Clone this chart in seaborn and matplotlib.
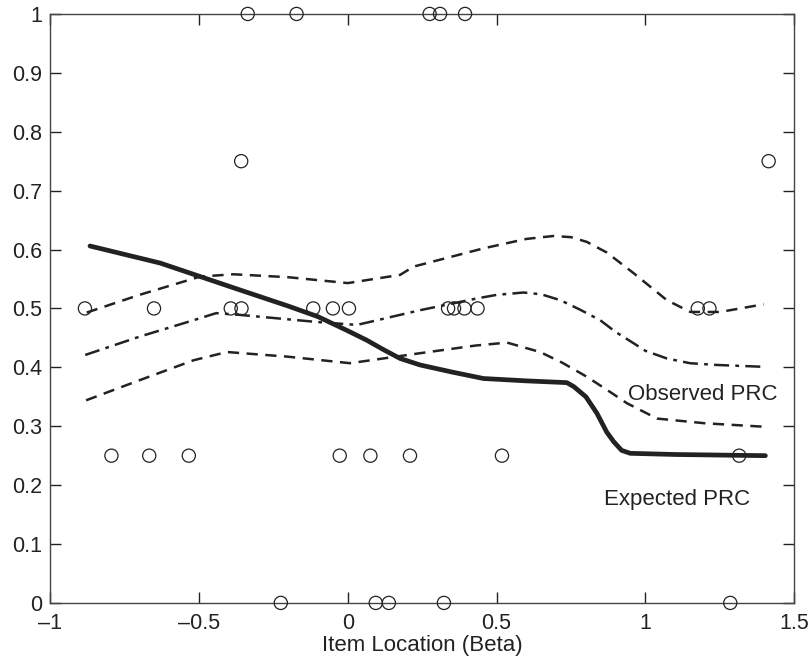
import matplotlib
matplotlib.use('Agg')
import matplotlib.pyplot as plt
from matplotlib.ticker import FuncFormatter
import seaborn as sns
import pandas as pd

# observed item scores (circles)
obs_x = [-0.336, -0.172, 0.275, 0.310, 0.394,
         -0.358, 1.414,
         -0.883, -0.651, -0.393, -0.357, -0.116, -0.050, 0.004,
         0.337, 0.357, 0.392, 0.436, 1.176, 1.215,
         -0.794, -0.667, -0.534, -0.027, 0.076, 0.209, 0.518, 1.315,
         -0.225, 0.094, 0.138, 0.323, 1.285]
obs_y = [1, 1, 1, 1, 1,
         0.75, 0.75,
         0.5, 0.5, 0.5, 0.5, 0.5, 0.5, 0.5,
         0.5, 0.5, 0.5, 0.5, 0.5, 0.5,
         0.25, 0.25, 0.25, 0.25, 0.25, 0.25, 0.25, 0.25,
         0, 0, 0, 0, 0]

# expected PRC (thick solid)
exp_x = [-0.866, -0.63, -0.36, -0.20, -0.10, 0.0, 0.064, 0.12, 0.176, 0.243, 0.35,
         0.456, 0.60, 0.736, 0.76, 0.80, 0.837, 0.87, 0.893, 0.92, 0.949, 1.1, 1.403]
exp_y = [0.606, 0.577, 0.531, 0.504, 0.486, 0.462, 0.446, 0.430, 0.415, 0.404, 0.392,
         0.381, 0.377, 0.374, 0.367, 0.350, 0.322, 0.290, 0.274, 0.259, 0.254, 0.252, 0.250]

# observed PRC (dash-dot) with upper / lower bands (dashed)
obs_prc_x = [-0.882, -0.70, -0.518, -0.442, -0.362, -0.104, 0.031, 0.243, 0.434, 0.50,
             0.590, 0.65, 0.714, 0.78, 0.848, 0.90, 0.960, 1.0, 1.072, 1.15, 1.24, 1.391]
obs_prc_y = [0.421, 0.452, 0.480, 0.492, 0.489, 0.477, 0.472, 0.497, 0.517, 0.523,
             0.527, 0.524, 0.514, 0.498, 0.480, 0.460, 0.441, 0.428, 0.415, 0.407, 0.404, 0.401]

up_x = [-0.877, -0.70, -0.496, -0.384, -0.20, 0.0, 0.176, 0.221, 0.456, 0.60, 0.691,
        0.75, 0.803, 0.87, 0.960, 1.072, 1.151, 1.251, 1.397]
up_y = [0.493, 0.523, 0.554, 0.558, 0.553, 0.543, 0.557, 0.571, 0.602, 0.618, 0.623,
        0.621, 0.613, 0.595, 0.560, 0.514, 0.494, 0.494, 0.507]

lo_x = [-0.879, -0.70, -0.518, -0.406, -0.20, 0.008, 0.243, 0.43, 0.535, 0.646, 0.72,
        0.803, 0.87, 0.938, 1.039, 1.20, 1.403]
lo_y = [0.344, 0.378, 0.412, 0.426, 0.418, 0.407, 0.424, 0.437, 0.442, 0.426, 0.408,
        0.384, 0.362, 0.339, 0.313, 0.305, 0.299]

sns.set_style('ticks')
plt.rcParams['font.family'] = ['Liberation Sans', 'DejaVu Sans']

fig, ax = plt.subplots(figsize=(8.08, 6.64), dpi=100)
fig.subplots_adjust(left=0.062, right=0.983, top=0.979, bottom=0.092)

sns.lineplot(x=up_x, y=up_y, ax=ax, color='#222222', lw=1.8, sort=False,
             linestyle=(0, (4.5, 3)))
sns.lineplot(x=lo_x, y=lo_y, ax=ax, color='#222222', lw=1.8, sort=False,
             linestyle=(0, (4.5, 3)))
sns.lineplot(x=obs_prc_x, y=obs_prc_y, ax=ax, color='#222222', lw=1.8, sort=False,
             linestyle=(0, (6, 2.5, 1.5, 2.5)))
sns.lineplot(x=exp_x, y=exp_y, ax=ax, color='#222222', lw=3.4, sort=False)

pts = pd.DataFrame({'x': obs_x, 'y': obs_y})
sns.scatterplot(data=pts, x='x', y='y', ax=ax, s=90, facecolor='none',
                edgecolor='#222222', linewidth=0.9, clip_on=False, zorder=5)

ax.text(0.943, 0.354, 'Observed PRC', fontsize=16, color='#222222', va='center', ha='left')
ax.text(0.862, 0.176, 'Expected PRC', fontsize=16, color='#222222', va='center', ha='left')

ax.set_xlim(-1, 1.5)
ax.set_ylim(0, 1)
ax.set_xticks([-1, -0.5, 0, 0.5, 1, 1.5])
ax.set_yticks([0, 0.1, 0.2, 0.3, 0.4, 0.5, 0.6, 0.7, 0.8, 0.9, 1])
fmt = FuncFormatter(lambda v, p: ('%g' % v).replace('-', '\u2013'))
ax.xaxis.set_major_formatter(fmt)
ax.yaxis.set_major_formatter(fmt)
ax.tick_params(direction='in', length=8, width=1, top=True, right=True,
               labelsize=15.5, colors='#222222')
ax.tick_params(axis='y', pad=6)
ax.tick_params(axis='x', pad=7)
for s in ax.spines.values():
    s.set_color('#444444')
    s.set_linewidth(1)
ax.set_xlabel('Item Location (Beta)', fontsize=16, color='#222222', labelpad=1)
ax.set_ylabel('')

plt.savefig('out.png', dpi=100)
